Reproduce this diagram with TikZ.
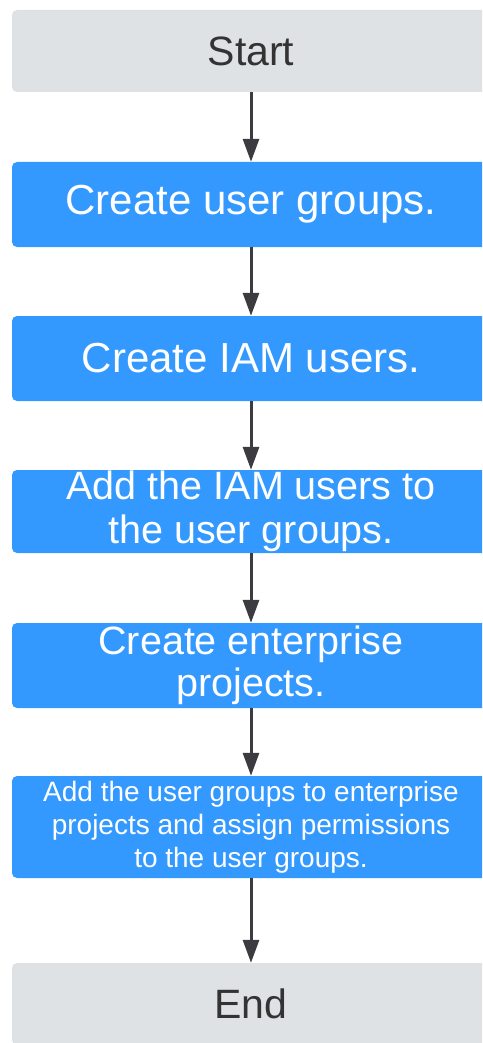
\documentclass[tikz,border=0pt]{standalone}
\usepackage{fontspec}
\setmainfont{Liberation Sans}
\usetikzlibrary{arrows.meta}

\definecolor{stepblue}{RGB}{51,153,255}
\definecolor{termgray}{RGB}{223,226,229}
\definecolor{arrowgray}{RGB}{60,60,64}
\definecolor{termtext}{RGB}{51,51,51}

\tikzset{
	stepbox/.style={rectangle, rounded corners=5pt, fill=stepblue, text=white, minimum width=478pt, align=center, inner sep=0pt},
	termbox/.style={rectangle, rounded corners=5pt, fill=termgray, text=termtext, minimum width=478pt, inner sep=0pt},
	flow/.style={draw=arrowgray, line width=3pt, -{Triangle[length=23pt,width=16pt]}}
}

\begin{document}
\begin{tikzpicture}[x=1pt,y=1pt]
	\clip (0,0) rectangle (482,-1043);
	\node[termbox, minimum height=82pt, font=\fontsize{41}{48}\selectfont] (start) at (251,-51) {Start};
	\node[stepbox, minimum height=85pt, font=\fontsize{42}{48}\selectfont] (groups) at (251,-204.5) {Create user groups.};
	\node[stepbox, minimum height=85pt, font=\fontsize{42}{48}\selectfont] (users) at (251,-358.5) {Create IAM users.};
	\node[stepbox, minimum height=83pt, font=\fontsize{39.5}{43.5}\selectfont] (addusers) at (251,-511.5) {Add the IAM users to\\the user groups.};
	\node[stepbox, minimum height=85pt, font=\fontsize{39.5}{42}\selectfont] (projects) at (251,-665.5) {Create enterprise\\projects.};
	\node[stepbox, minimum height=102pt, font=\fontsize{28}{33}\selectfont] (assign) at (251,-827) {Add the user groups to enterprise\\projects and assign permissions\\to the user groups.};
	\node[termbox, minimum height=82pt, font=\fontsize{41}{48}\selectfont] (end) at (251,-1004) {End};
	% connectors
	\draw[flow] (start) -- (groups);
	\draw[flow] (groups) -- (users);
	\draw[flow] (users) -- (addusers);
	\draw[flow] (addusers) -- (projects);
	\draw[flow] (projects) -- (assign);
	\draw[flow] (assign) -- (end);
\end{tikzpicture}
\end{document}
